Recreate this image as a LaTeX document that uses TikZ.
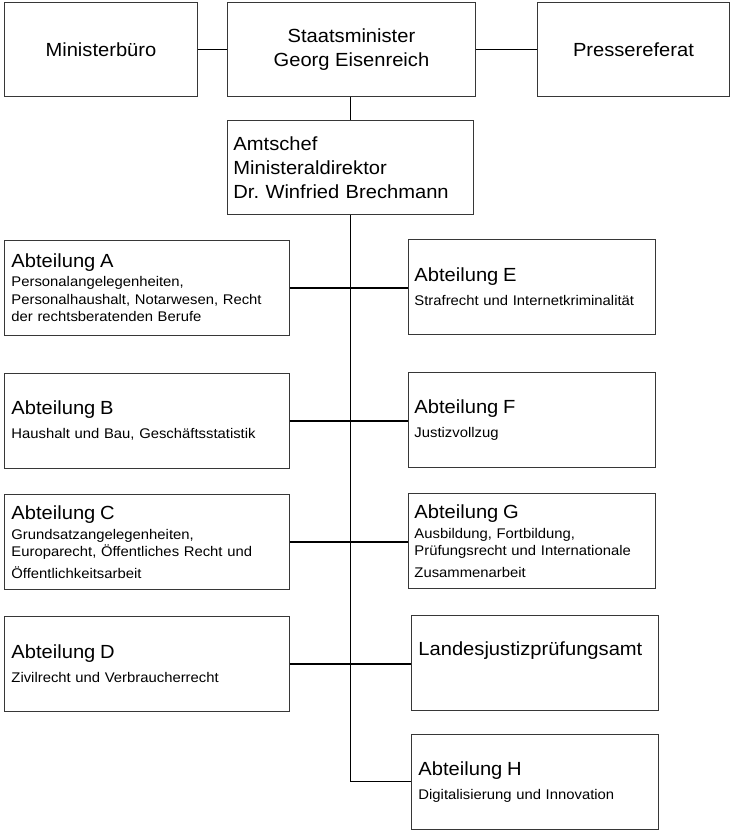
\documentclass[tikz,border=0pt]{standalone}
\usepackage{fontspec}
\setmainfont{Liberation Sans}[FakeStretch=1.06]
\usetikzlibrary{positioning}
\definecolor{boxline}{RGB}{55,55,55}

\newcommand\headtxt[1]{{\fontsize{19}{24}\selectfont #1}}

\tikzset{
  unit/.style={draw=boxline, line width=0.9pt, anchor=north west, inner sep=0pt,
    inner xsep=7pt, align=left, font=\fontsize{14}{17.5}\selectfont},
  lunit/.style={unit, text width=271pt, minimum height=95pt},
  runit/.style={unit, text width=233pt, minimum height=95pt},
  topunit/.style={draw=boxline, line width=0.9pt, anchor=north west, align=center,
    inner sep=0pt, minimum height=94pt, font=\fontsize{19}{24}\selectfont},
  link/.style={line width=1.4pt},
  trunk/.style={line width=1pt}
}

\begin{document}
\begin{tikzpicture}[x=1pt,y=-1pt]
    \useasboundingbox (0,0) rectangle (730,831);

    % Leitung
    \node[topunit, minimum width=193pt] (mbuero) at (4,2) {Ministerbüro};
    \node[topunit, minimum width=248pt] (minister) at (227,2) {Staatsminister\\Georg Eisenreich};
    \node[topunit, minimum width=192pt] (presse) at (537,2) {Pressereferat};
    \node[unit, inner xsep=6pt, text width=234pt, minimum height=94pt,
      font=\fontsize{19}{24}\selectfont] (amtschef) at (227,120)
      {Amtschef\\Ministeraldirektor\\Dr.\ Winfried Brechmann};

    % Abteilungen links
    \node[lunit] (abta) at (4,240) {\headtxt{Abteilung A}\\[1.5pt]
      Personalangelegenheiten,\\Personalhaushalt, Notarwesen, Recht\\der rechtsberatenden Berufe};
    \node[lunit] (abtb) at (4,373) {\headtxt{Abteilung B}\\[6.5pt]
      Haushalt und Bau, Geschäftsstatistik};
    \node[lunit] (abtc) at (4,494) {\headtxt{Abteilung C}\\[2pt]
      Grundsatzangelegenheiten,\\Europarecht, Öffentliches Recht und\\[4pt]Öffentlichkeitsarbeit};
    \node[lunit] (abtd) at (4,616) {\headtxt{Abteilung D}\\[6.5pt]
      Zivilrecht und Verbraucherrecht};

    % Abteilungen rechts
    \node[runit, inner xsep=6pt, text width=235pt] (abte) at (408,239) {\headtxt{Abteilung E}\\[6.5pt]
      Strafrecht und Internetkriminalität};
    \node[runit, inner xsep=6pt, text width=235pt] (abtf) at (408,372) {\headtxt{Abteilung F}\\[6.5pt]
      Justizvollzug};
    \node[runit, inner xsep=6pt, text width=235pt] (abtg) at (408,493) {\headtxt{Abteilung G}\\[2pt]
      Ausbildung, Fortbildung,\\Prüfungsrecht und Internationale\\[4pt]Zusammenarbeit};
    \node[runit] (ljpa) at (411,615) {\headtxt{Landesjustizprüfungsamt}\\[6.5pt]\strut};
    \node[runit] (abth) at (411,734) {\headtxt{Abteilung H}\\[6.5pt]
      Digitalisierung und Innovation};

    % Verbindungen
    \draw[link] (mbuero.east) -- (mbuero.east -| minister.west);
    \draw[link] (minister.east) -- (minister.east -| presse.west);
    \draw[trunk] (amtschef.north) -- (amtschef.north |- minister.south);
    \draw[trunk] (amtschef.south) -- (amtschef.south |- abth.west) -- (abth.west);
    \foreach \l/\r in {abta/abte, abtb/abtf, abtc/abtg, abtd/ljpa}
        \draw[link] (\l.east) -- (\l.east -| \r.west);
\end{tikzpicture}
\end{document}
